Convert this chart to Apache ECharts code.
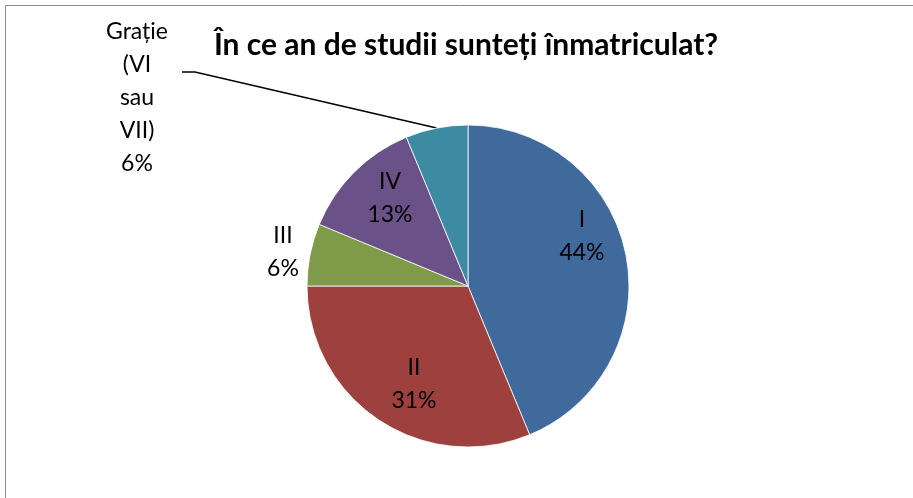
<!DOCTYPE html>
<html>
<head>
<meta charset="utf-8">
<script src="https://cdn.jsdelivr.net/npm/echarts@6/dist/echarts.min.js"></script>
<style>
  html, body { margin: 0; padding: 0; background: #fff; }
  #chart { width: 913px; height: 498px; }
</style>
</head>
<body>
<div id="chart"></div>
<script>
// data (16 answers -> 44/31/6/13/6 %)
const categories = ['I', 'II', 'III', 'IV', 'Grație\n(VI\nsau\nVII)'];
const counts = [7, 5, 1, 2, 1];
const sliceColors = ['#416A9C', '#9E413E', '#7F9A48', '#6A5187', '#3D8BA3'];
const titleText = 'În ce an de studii sunteți înmatriculat?';

// where Excel put each label (centre of the text block)
const labelSpots = [[582, 236], [414, 384], [283, 252], [390, 198], [137, 98]];
const outside = [false, false, true, false, true];

const chart = echarts.init(document.getElementById('chart'));

const option = {
  animation: false,
  textStyle: { fontFamily: 'Lato, sans-serif' },
  title: {
    text: titleText,
    left: 466,
    textAlign: 'center',
    top: 30,
    padding: 0,
    textStyle: { fontSize: 30, fontWeight: 'bold', color: '#000', fontFamily: 'Lato, sans-serif' }
  },
  graphic: [{
    type: 'rect',
    shape: { x: 5.5, y: 5.5, width: 1200, height: 1200 },
    style: { fill: 'none', stroke: '#8c8c8c', lineWidth: 1 },
    silent: true
  }],
  series: [{
    type: 'pie',
    center: [468, 286],
    radius: 161,
    startAngle: 90,
    clockwise: true,
    avoidLabelOverlap: false,
    itemStyle: { borderColor: '#fff', borderWidth: 0.8 },
    label: {
      fontSize: 23,
      lineHeight: 33,
      color: '#000',
      align: 'center',
      formatter: p => p.name + '\n' + Math.round(p.percent) + '%'
    },
    labelLayout: params => {
      const spot = labelSpots[params.dataIndex];
      const res = { x: spot[0], y: spot[1], align: 'center', verticalAlign: 'middle' };
      if (params.dataIndex === 4 && params.labelLinePoints) {
        res.labelLinePoints = [params.labelLinePoints[0], [195, 72], [182, 72]];
      }
      return res;
    },
    data: categories.map((name, i) => ({
      name: name,
      value: counts[i],
      itemStyle: { color: sliceColors[i] },
      label: { position: outside[i] ? 'outside' : 'inside' },
      labelLine: { show: i === 4, length: 10, length2: 10, lineStyle: { color: '#000', width: 1.5 } }
    }))
  }]
};

chart.setOption(option);
</script>
</body>
</html>
